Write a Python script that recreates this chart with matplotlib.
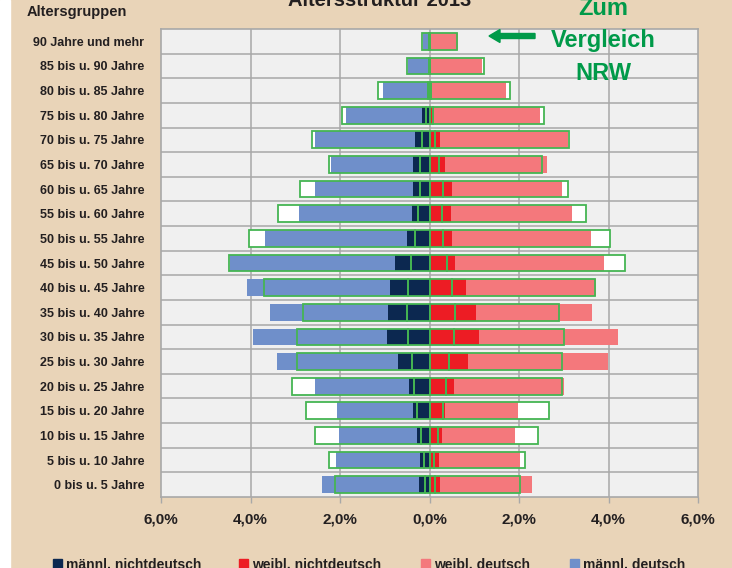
import numpy as np
import matplotlib.pyplot as plt
from matplotlib.patches import Rectangle, FancyArrow
from matplotlib.transforms import IdentityTransform

# age groups, top to bottom
cats = ["90 Jahre und mehr", "85 bis u. 90 Jahre", "80 bis u. 85 Jahre", "75 bis u. 80 Jahre",
        "70 bis u. 75 Jahre", "65 bis u. 70 Jahre", "60 bis u. 65 Jahre", "55 bis u. 60 Jahre",
        "50 bis u. 55 Jahre", "45 bis u. 50 Jahre", "40 bis u. 45 Jahre", "35 bis u. 40 Jahre",
        "30 bis u. 35 Jahre", "25 bis u. 30 Jahre", "20 bis u. 25 Jahre", "15 bis u. 20 Jahre",
        "10 bis u. 15 Jahre", "5 bis u. 10 Jahre", "0 bis u. 5 Jahre"]

# city values in % (nichtdeutsch and total per sex)
m_nd = np.array([0.01, 0.02, 0.06, 0.17, 0.32, 0.36, 0.37, 0.39, 0.51, 0.76,
                 0.88, 0.92, 0.95, 0.71, 0.45, 0.37, 0.28, 0.21, 0.23])
m_tot = np.array([0.15, 0.47, 1.04, 1.86, 2.56, 2.19, 2.55, 2.92, 3.67, 4.46,
                  4.07, 3.56, 3.95, 3.40, 2.55, 2.06, 2.03, 2.10, 2.41])
f_nd = np.array([0.01, 0.02, 0.04, 0.10, 0.24, 0.35, 0.51, 0.48, 0.51, 0.57,
                 0.82, 1.04, 1.11, 0.86, 0.55, 0.34, 0.28, 0.22, 0.23])
f_tot = np.array([0.63, 1.18, 1.70, 2.46, 3.10, 2.63, 2.97, 3.19, 3.62, 3.91,
                  3.73, 3.63, 4.21, 3.99, 3.01, 1.97, 1.91, 2.03, 2.29])

# NRW comparison values in %
nrw_m_nd = np.array([0.01, 0.02, 0.04, 0.08, 0.17, 0.22, 0.22, 0.25, 0.32, 0.42,
                     0.49, 0.51, 0.48, 0.39, 0.35, 0.28, 0.19, 0.12, 0.11])
nrw_m_tot = np.array([0.16, 0.51, 1.15, 1.95, 2.63, 2.24, 2.89, 3.38, 4.03, 4.47,
                      3.69, 2.83, 2.96, 2.97, 3.07, 2.77, 2.55, 2.24, 2.12])
nrw_f_nd = np.array([0.01, 0.02, 0.03, 0.08, 0.13, 0.22, 0.31, 0.27, 0.31, 0.39,
                     0.51, 0.56, 0.54, 0.43, 0.36, 0.30, 0.19, 0.10, 0.12])
nrw_f_tot = np.array([0.61, 1.22, 1.81, 2.56, 3.11, 2.51, 3.10, 3.50, 4.04, 4.37,
                      3.70, 2.90, 3.01, 2.96, 2.97, 2.66, 2.43, 2.14, 2.03])

xticks = [-6, -4, -2, 0, 2, 4, 6]
xtick_labels = ["6,0%", "4,0%", "2,0%", "0,0%", "2,0%", "4,0%", "6,0%"]
legend_labels = ["männl. nichtdeutsch", "weibl. nichtdeutsch", "weibl. deutsch", "männl. deutsch"]

# colours
beige = "#E9D4B8"
navy = "#0C2850"
blue = "#6F8FCA"
red = "#ED1C24"
pink = "#F4787C"
green = "#45B553"
tgreen = "#009A49"
grid = "#A8A8A8"
dark = "#231F20"

plt.rcParams['font.family'] = ['Liberation Sans', 'DejaVu Sans']
plt.rcParams['font.weight'] = 'bold'

W, H = 732, 568
fig = plt.figure(figsize=(W / 100, H / 100), dpi=100, facecolor=beige)
ax = fig.add_axes([161 / W, 1 - 497 / H, (698 - 161) / W, (497 - 29) / H])
ax.set_facecolor("#F0F0F0")

y = np.arange(len(cats))
h = 0.68

# white fill of the NRW boxes behind everything
ax.barh(y, -nrw_m_tot, height=h, color="white", zorder=1)
ax.barh(y, nrw_f_tot, height=h, color="white", zorder=1)

# city bars, men to the left
ax.barh(y, -m_nd, height=h, color=navy, zorder=2)
ax.barh(y, -(m_tot - m_nd), left=-m_nd, height=h, color=blue, zorder=2)
ax.barh(y, f_nd, height=h, color=red, zorder=2)
ax.barh(y, f_tot - f_nd, left=f_nd, height=h, color=pink, zorder=2)

# NRW outlines on top
ax.barh(y, -nrw_m_nd, height=h, fill=False, edgecolor=green, lw=1.3, zorder=3)
ax.barh(y, -(nrw_m_tot - nrw_m_nd), left=-nrw_m_nd, height=h, fill=False,
        edgecolor=green, lw=1.3, zorder=3)
ax.barh(y, nrw_f_nd, height=h, fill=False, edgecolor=green, lw=1.3, zorder=3)
ax.barh(y, nrw_f_tot - nrw_f_nd, left=nrw_f_nd, height=h, fill=False,
        edgecolor=green, lw=1.3, zorder=3)

# grid
for xv in xticks[1:-1]:
    ax.axvline(xv, color=grid, lw=1.1, zorder=0.5)
for k in range(1, len(cats)):
    ax.axhline(k - 0.5, color=grid, lw=1.1, zorder=0.5)

ax.set_xlim(-6, 6)
ax.set_ylim(len(cats) - 0.5, -0.5)
for s in ax.spines.values():
    s.set_color(grid)
    s.set_linewidth(1.2)

ax.set_xticks(xticks)
ax.set_xticklabels(xtick_labels, fontsize=11, color=dark)
ax.tick_params(axis='x', length=4.5, width=1, color=grid, pad=7)
ax.set_yticks(y)
ax.set_yticklabels(cats, fontsize=9, color=dark)
ax.tick_params(axis='y', length=0, pad=12)

# texts around the plot
fig.text(380 / W, 1 - 6 / H, "Altersstruktur 2013", ha='center', va='baseline',
         fontsize=14.5, color=dark)
fig.text(77 / W, 1 - 16 / H, "Altersgruppen", ha='center', va='baseline',
         fontsize=10.5, color=dark)
fig.text(603 / W, 1 - 15 / H, "Zum", ha='center', va='baseline', fontsize=17, color=tgreen)
fig.text(603 / W, 1 - 47 / H, "Vergleich", ha='center', va='baseline', fontsize=17, color=tgreen)
fig.text(603 / W, 1 - 80 / H, "NRW", ha='center', va='baseline', fontsize=17, color=tgreen)
fig.add_artist(FancyArrow(535, H - 36, -46, 0, width=5, head_width=13, head_length=11,
                          length_includes_head=True, color=tgreen,
                          transform=IdentityTransform()))

# white strip on the left edge
fig.patches.append(Rectangle((0, 0), 10 / W, 1, transform=fig.transFigure,
                             color="white", zorder=0))

# legend along the bottom
legend_colors = [navy, red, pink, blue]
square_x = [53, 239, 421, 570]
for sx, lab, col in zip(square_x, legend_labels, legend_colors):
    fig.patches.append(Rectangle((sx / W, 0), 9 / W, 9 / H, transform=fig.transFigure,
                                 color=col))
    fig.text((sx + 13) / W, 1 - 569 / H, lab, va='baseline', fontsize=10, color=dark)

fig.savefig("out.png", dpi=100, facecolor=beige)
